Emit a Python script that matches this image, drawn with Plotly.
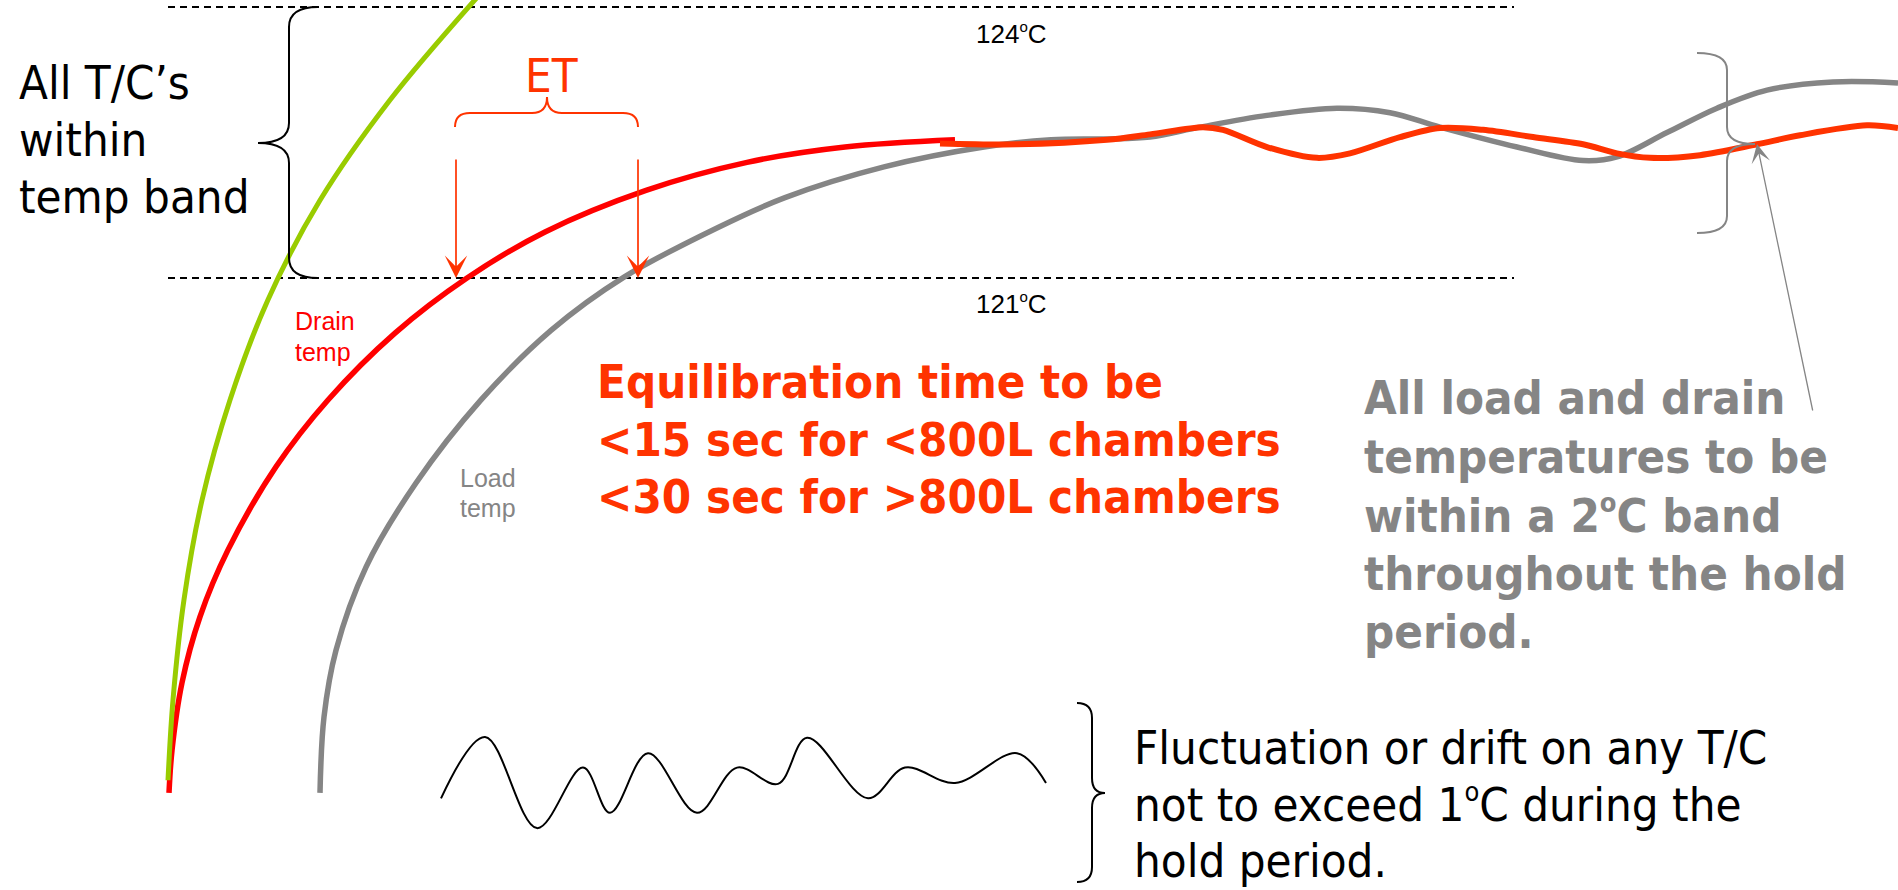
import plotly.graph_objects as go

# ---------------- data (time in arbitrary units, temperature in °C) ----------------
band_low = 121.0
band_high = 124.0
band_t = [168, 1514]

green_t = [168, 173, 184, 202, 230, 268, 320, 390, 475, 521]
green_c = [115.44, 116.33, 117.44, 118.54, 119.65, 120.76, 121.86, 122.97, 124.08, 124.63]

drain_t = [169, 172, 182, 200, 228, 276, 328, 395, 467, 545, 646, 747, 845, 955]
drain_c = [115.30, 115.77, 116.52, 117.25, 117.99, 118.91, 119.65, 120.39, 121.00, 121.51,
           121.97, 122.28, 122.45, 122.53]

hold_t = [940, 1017, 1107, 1150, 1203, 1223, 1267, 1317, 1350, 1400, 1440, 1483, 1533,
          1583, 1617, 1650, 1700, 1757, 1800, 1867, 1898]
hold_c = [122.49, 122.48, 122.53, 122.59, 122.67, 122.64, 122.45, 122.33, 122.38, 122.56,
          122.66, 122.64, 122.56, 122.48, 122.38, 122.33, 122.36, 122.48, 122.58, 122.69, 122.66]

load_t = [320, 324, 336, 366, 416, 481, 551, 624, 718, 785, 884, 984, 1051, 1105, 1150, 1200,
          1267, 1337, 1390, 1440, 1517, 1583, 1617, 1667, 1717, 1767, 1833, 1898]
load_c = [115.30, 116.14, 116.88, 117.80, 118.73, 119.65, 120.42, 121.01, 121.56, 121.89,
          122.23, 122.45, 122.53, 122.54, 122.56, 122.67, 122.80, 122.88, 122.83, 122.67,
          122.45, 122.30, 122.34, 122.61, 122.88, 123.08, 123.17, 123.16]

wave_t = [441, 485, 537, 583, 610, 648, 697, 737, 778, 807, 868, 905, 955, 1017, 1046]
wave_c = [115.24, 115.92, 114.91, 115.58, 115.08, 115.74, 115.08, 115.58, 115.40, 115.91,
          115.24, 115.58, 115.41, 115.74, 115.41]

et_t = [456, 638]          # drain and load reach 121 °C


def deg(size):
    return f"<sup><span style='font-size:{size}px'>o</span></sup>"


label_124 = "124" + deg(15) + "C"
label_121 = "121" + deg(15) + "C"

# ---------------- layout helpers ----------------
W, H = 1898, 890
Y_TOP, Y_LOW = 124.0775, 114.225


def ty(px):
    """pixel row -> temperature axis value (layout positioning helper)"""
    return Y_TOP - px * (Y_TOP - Y_LOW) / H


RED = "#FF0000"
ORANGE = "#FF3300"
GREEN = "#99CC00"
GREY = "#858585"
COND = "DejaVu Sans Condensed, DejaVu Sans, sans-serif"
ARIAL = "Liberation Sans, Arial, sans-serif"

fig = go.Figure()

for lvl in (band_high, band_low):
    fig.add_trace(go.Scatter(x=band_t, y=[lvl, lvl], mode="lines",
                             line=dict(color="black", width=2, dash="7px,5px"),
                             hoverinfo="skip"))

fig.add_trace(go.Scatter(x=load_t, y=load_c, mode="lines",
                         line=dict(color=GREY, width=5.5, shape="spline", smoothing=1.0)))
fig.add_trace(go.Scatter(x=drain_t, y=drain_c, mode="lines",
                         line=dict(color=RED, width=5.5, shape="spline", smoothing=1.0)))
fig.add_trace(go.Scatter(x=green_t, y=green_c, mode="lines",
                         line=dict(color=GREEN, width=5, shape="spline", smoothing=1.0)))
fig.add_trace(go.Scatter(x=hold_t, y=hold_c, mode="lines",
                         line=dict(color=ORANGE, width=6, shape="spline", smoothing=0.9)))
fig.add_trace(go.Scatter(x=wave_t, y=wave_c, mode="lines",
                         line=dict(color="black", width=2, shape="spline", smoothing=1.0)))

# ---------------- braces ----------------
def vbrace(x_end, x_mid, x_tip, y0, y1, yt, r):
    return (f"M {x_end},{ty(y0)} Q {x_mid},{ty(y0)} {x_mid},{ty(y0 + r)} "
            f"L {x_mid},{ty(yt - r)} Q {x_mid},{ty(yt)} {x_tip},{ty(yt)} "
            f"Q {x_mid},{ty(yt)} {x_mid},{ty(yt + r)} "
            f"L {x_mid},{ty(y1 - r)} Q {x_mid},{ty(y1)} {x_end},{ty(y1)}")


def hbrace(x0, x1, xt, y_end, y_mid, y_tip, r):
    return (f"M {x0},{ty(y_end)} Q {x0},{ty(y_mid)} {x0 + r},{ty(y_mid)} "
            f"L {xt - r},{ty(y_mid)} Q {xt},{ty(y_mid)} {xt},{ty(y_tip)} "
            f"Q {xt},{ty(y_mid)} {xt + r},{ty(y_mid)} "
            f"L {x1 - r},{ty(y_mid)} Q {x1},{ty(y_mid)} {x1},{ty(y_end)}")


fig.add_shape(type="path", xref="x", yref="y",
              path=vbrace(318, 289, 258, 7, 278, 143, 20),
              line=dict(color="black", width=2))
fig.add_shape(type="path", xref="x", yref="y",
              path=hbrace(455, 638, 547, 127, 113, 97, 15),
              line=dict(color=ORANGE, width=2))
fig.add_shape(type="path", xref="x", yref="y",
              path=vbrace(1697, 1727, 1755, 53, 233, 144, 17),
              line=dict(color=GREY, width=2))
fig.add_shape(type="path", xref="x", yref="y",
              path=vbrace(1077, 1092, 1105, 703, 882, 793, 15),
              line=dict(color="black", width=2))

# ---------------- arrows ----------------
for xa in et_t:
    fig.add_annotation(x=xa, y=band_low, ax=xa, ay=ty(158), xref="x", yref="y",
                       axref="x", ayref="y", showarrow=True, arrowhead=3,
                       arrowsize=2.2, arrowwidth=1.7, arrowcolor=ORANGE, text="")
fig.add_annotation(x=1757, y=ty(144), ax=1813, ay=ty(412), xref="x", yref="y",
                   axref="x", ayref="y", showarrow=True, arrowhead=3,
                   arrowsize=2.4, arrowwidth=1.3, arrowcolor=GREY, text="")

# ---------------- text ----------------
def label(text, x, baseline, size, color="black", family=COND, bold=False, anchor="left"):
    t = f"<b>{text}</b>" if bold else text
    fig.add_annotation(x=x, y=ty(baseline - 0.35 * size), xref="x", yref="y",
                       text=t, showarrow=False, xanchor=anchor, yanchor="middle",
                       font=dict(family=family, size=size, color=color), borderpad=0)


for i, line in enumerate(["All T/C’s", "within", "temp band"]):
    label(line, 18, 99 + 57 * i, 47)

label("ET", 551, 92, 47, ORANGE, anchor="center")
label(label_124, 1011, 43, 26, family=ARIAL, anchor="center")
label(label_121, 1011, 313, 26, family=ARIAL, anchor="center")

label("Drain", 294, 330, 25, RED, family=ARIAL)
label("temp", 294, 361, 25, RED, family=ARIAL)
label("Load", 459, 487, 25, GREY, family=ARIAL)
label("temp", 459, 517, 25, GREY, family=ARIAL)

for i, line in enumerate(["Equilibration time to be",
                          "&lt;15 sec for &lt;800L chambers",
                          "&lt;30 sec for &gt;800L chambers"]):
    label(line, 596, 398 + 57.5 * i, 47, ORANGE, bold=True)

for i, line in enumerate(["All load and drain", "temperatures to be",
                          "within a 2" + deg(27) + "C band", "throughout the hold", "period."]):
    label(line, 1363, 414 + 58.5 * i, 47, GREY, bold=True)

for i, line in enumerate(["Fluctuation or drift on any T/C",
                          "not to exceed 1" + deg(27) + "C during the", "hold period."]):
    label(line, 1133, 764 + 56.5 * i, 47)

fig.update_layout(
    width=W, height=H, margin=dict(l=0, r=0, t=0, b=0),
    paper_bgcolor="white", plot_bgcolor="white", showlegend=False,
    xaxis=dict(range=[0, W], visible=False, fixedrange=True),
    yaxis=dict(range=[Y_LOW, Y_TOP], visible=False, fixedrange=True),
)

fig.write_html("out.html", config={"displayModeBar": False},
               post_script="document.body.style.margin='0';document.body.style.overflow='hidden';")
